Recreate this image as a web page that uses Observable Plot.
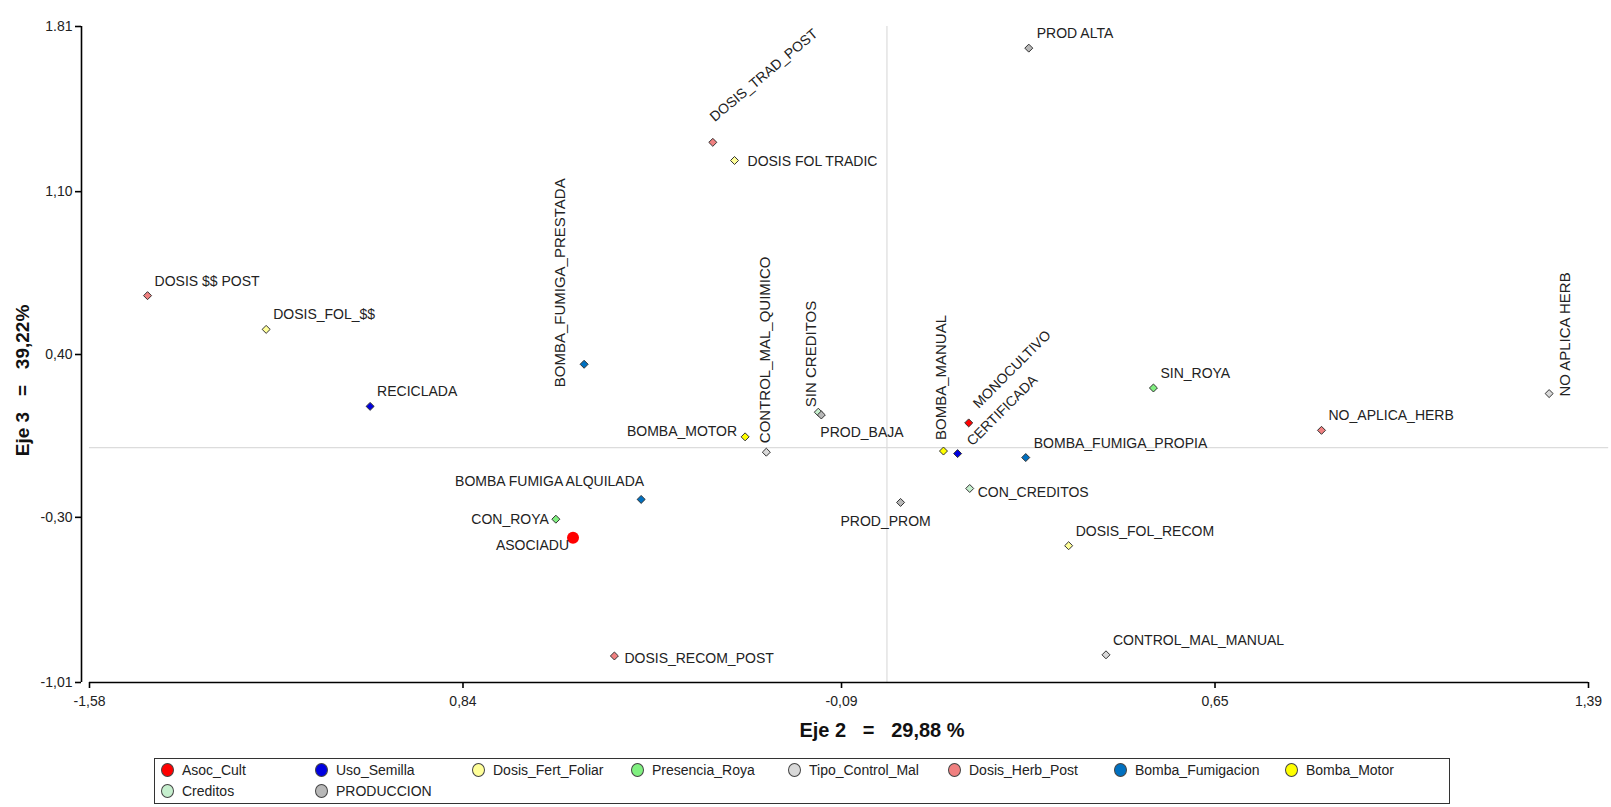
<!DOCTYPE html>
<html>
<head>
<meta charset="utf-8">
<script src="https://cdn.jsdelivr.net/npm/d3@7"></script>
<script src="https://cdn.jsdelivr.net/npm/@observablehq/plot@0.6"></script>
<style>
  body { margin: 0; background: #fff; font-family: Arial, "Liberation Sans", sans-serif; }
  #wrap { position: relative; width: 1611px; height: 807px; overflow: hidden; }
  #legend {
    position: absolute; left: 154px; top: 758px; width: 1294px; height: 44px;
    border: 1px solid #333; display: grid;
    grid-template-columns: 154px 157px 159px 157px 160px 166px 171px auto;
    grid-auto-rows: 21px; font-size: 14px; color: #222; box-sizing: content-box;
  }
  .item { display: flex; align-items: center; white-space: nowrap; }
  .sw { width: 11px; height: 12px; border-radius: 50%; border: 1px solid #444; margin-left: 6px; margin-right: 8px; flex: none; }
</style>
</head>
<body>
<div id="wrap"><div id="chart"></div><div id="legend"></div></div>
<script>
// ---------- data ----------
const names = [
  "PROD ALTA", "DOSIS_TRAD_POST", "DOSIS FOL TRADIC", "DOSIS $$ POST", "DOSIS_FOL_$$",
  "BOMBA_FUMIGA_PRESTADA", "RECICLADA", "BOMBA_MOTOR", "CONTROL_MAL_QUIMICO", "SIN CREDITOS",
  "PROD_BAJA", "BOMBA_MANUAL", "MONOCULTIVO", "CERTIFICADA", "BOMBA_FUMIGA_PROPIA",
  "SIN_ROYA", "NO_APLICA_HERB", "NO APLICA HERB", "CON_CREDITOS", "PROD_PROM",
  "DOSIS_FOL_RECOM", "BOMBA FUMIGA ALQUILADA", "CON_ROYA", "ASOCIADU", "DOSIS_RECOM_POST",
  "CONTROL_MAL_MANUAL"
];
const groups = [
  "PRODUCCION", "Dosis_Herb_Post", "Dosis_Fert_Foliar", "Dosis_Herb_Post", "Dosis_Fert_Foliar",
  "Bomba_Fumigacion", "Uso_Semilla", "Bomba_Motor", "Tipo_Control_Mal", "Creditos",
  "PRODUCCION", "Bomba_Motor", "Asoc_Cult", "Uso_Semilla", "Bomba_Fumigacion",
  "Presencia_Roya", "Dosis_Herb_Post", "Tipo_Control_Mal", "Creditos", "PRODUCCION",
  "Dosis_Fert_Foliar", "Bomba_Fumigacion", "Presencia_Roya", "Asoc_Cult", "Dosis_Herb_Post",
  "Tipo_Control_Mal"
];
const eje2 = [
  0.281, -0.345, -0.302, -1.465, -1.230,
  -0.600, -1.024, -0.281, -0.239, -0.136,
  -0.130, 0.112, 0.162, 0.140, 0.275,
  0.528, 0.861, 1.312, 0.164, 0.027,
  0.360, -0.487, -0.656, -0.622, -0.540,
  0.434
];
const eje3 = [
  1.717, 1.312, 1.234, 0.653, 0.508,
  0.358, 0.177, 0.046, -0.020, 0.152,
  0.140, -0.015, 0.106, -0.026, -0.043,
  0.256, 0.074, 0.232, -0.176, -0.236,
  -0.422, -0.223, -0.308, -0.388, -0.896,
  -0.891
];
const legendGroups = [
  "Asoc_Cult", "Uso_Semilla", "Dosis_Fert_Foliar", "Presencia_Roya", "Tipo_Control_Mal",
  "Dosis_Herb_Post", "Bomba_Fumigacion", "Bomba_Motor", "Creditos", "PRODUCCION"
];
const xTicks = [-1.58, -0.84, -0.09, 0.65, 1.39];
const xTickLabels = ["-1,58", "0,84", "-0,09", "0,65", "1,39"];
const yTicks = [-1.01, -0.30, 0.40, 1.10, 1.81];
const yTickLabels = ["-1,01", "-0,30", "0,40", "1,10", "1.81"];
const xTitle = "Eje 2\u00a0\u00a0\u00a0=\u00a0\u00a0\u00a029,88 %";
const yTitle = "Eje 3\u00a0\u00a0\u00a0=\u00a0\u00a0\u00a039,22%";

// ---------- styles ----------
const palette = {
  Asoc_Cult: "#ff0000", Uso_Semilla: "#0000e0", Dosis_Fert_Foliar: "#ffff99",
  Presencia_Roya: "#80f080", Tipo_Control_Mal: "#d9d9d9", Dosis_Herb_Post: "#f08080",
  Bomba_Fumigacion: "#0070c0", Bomba_Motor: "#ffff00", Creditos: "#c6efce", PRODUCCION: "#b8b8b8"
};
const labelLayout = {
  "PROD ALTA": {dx: 8, dy: -10},
  "DOSIS_TRAD_POST": {dx: 2, dy: -20, rotate: -40},
  "DOSIS FOL TRADIC": {dx: 13, dy: 6},
  "DOSIS $$ POST": {dx: 7, dy: -10},
  "DOSIS_FOL_$$": {dx: 7, dy: -10},
  "BOMBA_FUMIGA_PRESTADA": {dx: -24, dy: 23, rotate: -90},
  "RECICLADA": {dx: 7, dy: -10},
  "BOMBA_MOTOR": {dx: -8, dy: -1, anchor: "end"},
  "CONTROL_MAL_QUIMICO": {dx: -1, dy: -9, rotate: -90},
  "SIN CREDITOS": {dx: -7, dy: -5, rotate: -90},
  "PROD_BAJA": {dx: -1, dy: 22},
  "BOMBA_MANUAL": {dx: -2, dy: -11, rotate: -90},
  "MONOCULTIVO": {dx: 10, dy: -14, rotate: -45},
  "CERTIFICADA": {dx: 15, dy: -7, rotate: -45},
  "BOMBA_FUMIGA_PROPIA": {dx: 8, dy: -10},
  "SIN_ROYA": {dx: 7, dy: -10},
  "NO_APLICA_HERB": {dx: 7, dy: -10},
  "NO APLICA HERB": {dx: 16, dy: 3, rotate: -90},
  "CON_CREDITOS": {dx: 8, dy: 9},
  "PROD_PROM": {dx: -15, dy: 24, anchor: "middle"},
  "DOSIS_FOL_RECOM": {dx: 7, dy: -10},
  "BOMBA FUMIGA ALQUILADA": {dx: 3, dy: -13, anchor: "end"},
  "CON_ROYA": {dx: -7, dy: 5, anchor: "end"},
  "ASOCIADU": {dx: -4, dy: 12, anchor: "end"},
  "DOSIS_RECOM_POST": {dx: 10, dy: 7},
  "CONTROL_MAL_MANUAL": {dx: 7, dy: -10}
};

const data = names.map((n, i) => ({name: n, group: groups[i], x: eje2[i], y: eje3[i]}));
const xMap = new Map(xTicks.map((v, i) => [v, xTickLabels[i]]));
const yMap = new Map(yTicks.map((v, i) => [v, yTickLabels[i]]));
const highlight = "ASOCIADU";

const labelMarks = data.map(d => {
  const L = labelLayout[d.name] || {dx: 7, dy: -10};
  const vertical = L.rotate === -90;
  return Plot.text([d], {
    x: "x", y: "y", text: "name",
    dx: L.dx, dy: L.dy, rotate: L.rotate || 0,
    textAnchor: L.anchor || "start",
    lineAnchor: vertical ? "middle" : "bottom",
    fill: "#222", fontSize: vertical ? 15 : 14
  });
});

const chart = Plot.plot({
  width: 1611, height: 750,
  marginLeft: 89, marginRight: 23, marginTop: 26, marginBottom: 68,
  style: {fontFamily: "Arial, 'Liberation Sans', sans-serif", fontSize: "14px", color: "#222", background: "#fff"},
  x: {domain: [-1.58, 1.39]},
  y: {domain: [-1.01, 1.81]},
  color: {domain: legendGroups, range: legendGroups.map(g => palette[g])},
  marks: [
    Plot.ruleX([0], {stroke: "#dcdcdc", strokeWidth: 1.2}),
    Plot.ruleY([0], {x1: xTicks[0], x2: 1.43, stroke: "#dcdcdc", strokeWidth: 1.2}),
    Plot.ruleX([xTicks[0]], {y1: yTicks[0], y2: yTicks[yTicks.length - 1], dx: -8, stroke: "#000", strokeWidth: 1.6}),
    Plot.ruleY([yTicks[0]], {x1: xTicks[0], x2: xTicks[xTicks.length - 1], stroke: "#000", strokeWidth: 1.6}),
    Plot.axisY({ticks: yTicks, tickFormat: d => yMap.get(d), dx: -8, tickSize: 6, tickPadding: 3, label: null, stroke: "#000", strokeWidth: 1.6, fill: "#222", fontSize: 14}),
    Plot.axisX({ticks: xTicks, tickFormat: d => xMap.get(d), tickSize: 6, tickPadding: 8, label: null, stroke: "#000", strokeWidth: 1.6, fill: "#222", fontSize: 14}),
    Plot.text([xTitle], {frameAnchor: "bottom", textAnchor: "middle", dx: 43, dy: 54, lineAnchor: "bottom", fontWeight: "bold", fontSize: 20, fill: "#111"}),
    Plot.text([yTitle], {frameAnchor: "left", textAnchor: "middle", rotate: -90, dx: -61, dy: 26, lineAnchor: "bottom", fontWeight: "bold", fontSize: 19, fill: "#111"}),
    Plot.dot(data.filter(d => d.name !== highlight), {x: "x", y: "y", fill: "group", stroke: "#333", strokeWidth: 1, symbol: "diamond2", r: 3.6}),
    Plot.dot(data.filter(d => d.name === highlight), {x: "x", y: "y", fill: "group", r: 6}),
    ...labelMarks
  ]
});
document.getElementById("chart").appendChild(chart);

// legend
const legend = document.getElementById("legend");
for (const g of legendGroups) {
  const it = document.createElement("div");
  it.className = "item";
  const sw = document.createElement("span");
  sw.className = "sw";
  sw.style.background = palette[g];
  it.appendChild(sw);
  const t = document.createElement("span");
  t.textContent = g;
  it.appendChild(t);
  legend.appendChild(it);
}
</script>
</body>
</html>
